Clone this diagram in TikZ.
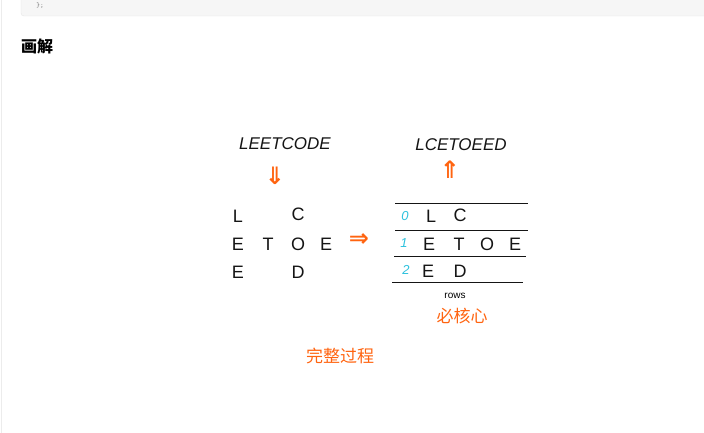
\documentclass[tikz,border=0pt]{standalone}
\usepackage{fontspec}
\setmainfont{Liberation Sans}
\newfontfamily\cjk{Noto Sans CJK SC}
\newfontfamily\symb{DejaVu Sans}
\usetikzlibrary{positioning}
\definecolor{ink}{HTML}{151515}
\definecolor{hand}{HTML}{FF6410}
\definecolor{rowcyan}{HTML}{2EC2DE}
\definecolor{codebg}{HTML}{F6F6F6}
\definecolor{codeline}{HTML}{E6E6E6}
\definecolor{pagerule}{HTML}{ECECEC}
\definecolor{codetext}{HTML}{777777}
\tikzset{
  letter/.style={font=\fontsize{18}{18}\selectfont,text=ink,inner sep=0pt},
  word/.style={font=\fontsize{17}{17}\selectfont\itshape,text=ink,inner sep=0pt},
  rowno/.style={font=\fontsize{13}{13}\selectfont\itshape,text=rowcyan,inner sep=0pt},
  handarrow/.style={font=\symb\bfseries\fontsize{24}{24}\selectfont,text=hand,inner sep=0pt},
  note/.style={font=\cjk\fontsize{17}{17}\selectfont,text=hand,inner sep=0pt},
  rule/.style={line width=.9pt,color=ink},
}

\begin{document}
\begin{tikzpicture}[x=1pt,y=-1pt]
  \useasboundingbox (0,0) rectangle (704,433);
  \fill[white] (0,0) rectangle (704,433);
  \draw[pagerule,line width=1.2pt] (1.5,0) -- (1.5,433);

  % code block cut by the page top
  \begin{scope}
    \clip (0,0) rectangle (704,433);
    \draw[codeline,fill=codebg,rounded corners=3pt] (21,-10) rectangle (720,16);
  \end{scope}
  \node[font=\ttfamily\scriptsize,text=codetext,inner sep=0pt] (tail) at (40,6) {\};};
  \node[font=\cjk\bfseries\fontsize{16}{16}\selectfont,anchor=west,inner sep=0pt] (title) at (21,46) {画解};

  % zigzag layout
  \node[word] (src) at (285,144) {LEETCODE};
  \node[handarrow] (down) at (275,176) {⇓};
  \node[letter] (l1) at (238,216) {L};
  \node[letter] (c1) at (298,214) {C};
  \node[letter] (e2) at (238,244) {E};
  \node[letter] (t2) at (268,244) {T};
  \node[letter] (o2) at (298,244) {O};
  \node[letter] (e4) at (326,244) {E};
  \node[letter] (e3) at (238,272) {E};
  \node[letter] (d3) at (298,272) {D};
  \node[handarrow] (right) at (359,240) {⇒};

  % rows
  \node[word] (res) at (461,145) {LCETOEED};
  \node[handarrow] (up) at (450,170) {⇑};
  \draw[rule] (395,203) -- (528,203);
  \draw[rule] (395,230) -- (528,230);
  \draw[rule] (394,256) -- (526,256);
  \draw[rule] (392,282) -- (523,282);
  \node[rowno] (r0) at (405,216) {0};
  \node[rowno] (r1) at (404,243) {1};
  \node[rowno] (r2) at (406,270) {2};
  \node[letter] (a1) at (431,216) {L};
  \node[letter] (a2) at (460,215) {C};
  \node[letter] (b1) at (429,244) {E};
  \node[letter] (b2) at (459,244) {T};
  \node[letter] (b3) at (487,244) {O};
  \node[letter] (b4) at (515,244) {E};
  \node[letter] (c1r) at (428,271) {E};
  \node[letter] (c2r) at (460,271) {D};
  \node[font=\fontsize{10}{10}\selectfont,inner sep=0pt] (rows) at (455,296) {rows};
  \node[note] (core) at (462,316) {必核心};
  \node[note] (whole) at (340,356) {完整过程};
\end{tikzpicture}
\end{document}
